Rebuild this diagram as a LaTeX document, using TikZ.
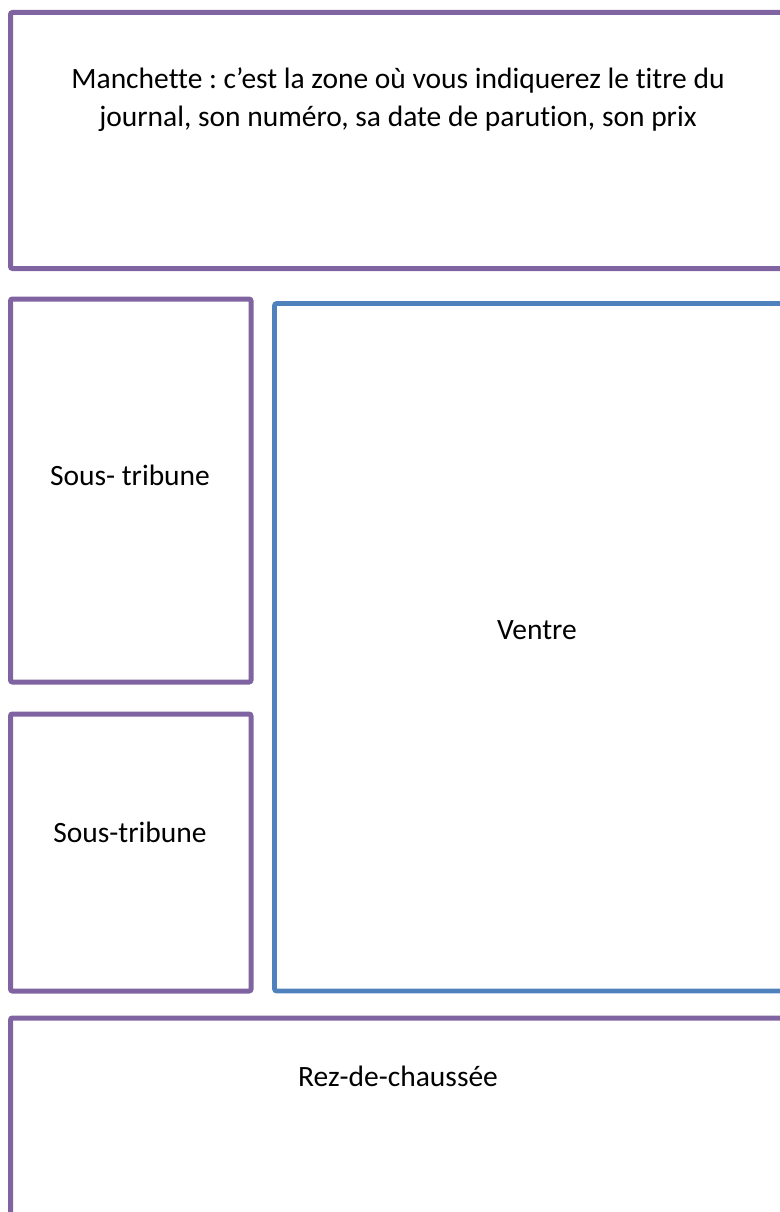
\documentclass[tikz,border=0pt]{standalone}
\usepackage{fontspec}
\setmainfont{Carlito}[Ligatures=NoCommon]
\frenchspacing
\definecolor{boxpurple}{HTML}{8064A2}
\definecolor{boxblue}{HTML}{4F81BD}
\begin{document}
\begin{tikzpicture}[x=1pt,y=-1pt,
  zone/.style={line width=5pt,rounded corners=2pt},
  purplezone/.style={zone,draw=boxpurple},
  bluezone/.style={zone,draw=boxblue,line width=4.6pt},
  label/.style={font=\fontsize{29.5}{38}\selectfont,align=center,text=black,inner sep=0pt}]
\useasboundingbox (0,0) rectangle (779,1212);
\draw[purplezone] (10.5,12.5) rectangle (800,268.5);
\draw[purplezone] (10.5,299) rectangle (251,682);
\draw[purplezone] (10.5,714) rectangle (251,991);
\draw[bluezone] (274.5,303.5) rectangle (800,991);
\draw[purplezone] (10.5,1018) rectangle (800,1240);
\node[label] (manchette) at (398,100) {Manchette : c’est la zone où vous indiquerez le titre du\\journal, son numéro, sa date de parution, son prix};
\node[label] (st1) at (130,475) {Sous- tribune};
\node[label] (st2) at (130,832) {Sous-tribune};
\node[label] (ventre) at (537,630) {Ventre};
\node[label] (rez) at (398,1076) {Rez-de-chaussée};
\end{tikzpicture}
\end{document}
